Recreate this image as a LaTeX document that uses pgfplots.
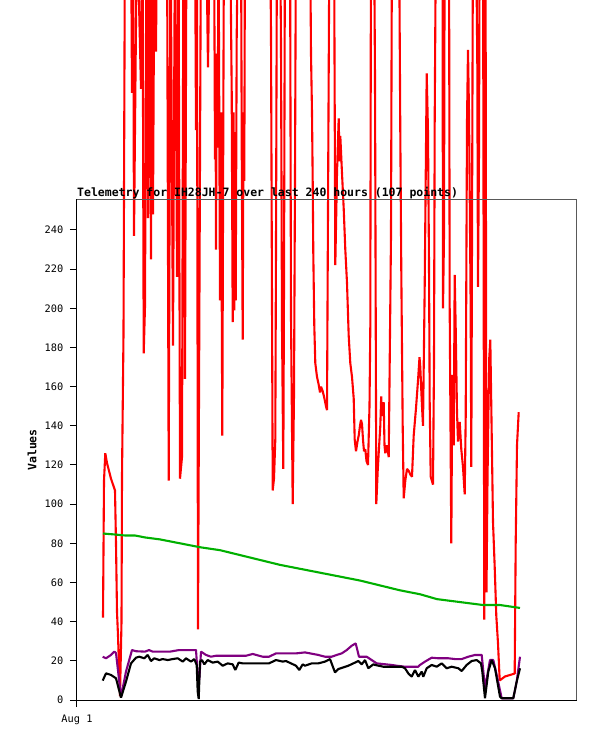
\documentclass[border=0pt]{standalone}
\usepackage{pgfplots}
\pgfplotsset{compat=1.18}
\usepackage{fontspec}
\newfontfamily\mono{DejaVu Sans Mono}
\newcommand\tickfont{\mono\fontsize{10.3bp}{12bp}\selectfont}
\newcommand\titlefont{\mono\bfseries\fontsize{11.5bp}{13bp}\selectfont}
\definecolor{tred}{RGB}{255,0,0}
\definecolor{tgreen}{RGB}{0,176,0}
\definecolor{tpurple}{RGB}{128,0,128}
\begin{document}
\begin{tikzpicture}
\begin{axis}[
  name=ax, at={(0,0)}, anchor=south west,
  scale only axis, width=500bp, height=500bp,
  xmin=77, xmax=577, ymin=0, ymax=255.3,
  clip=false,
  xtick={77}, xticklabels={Aug 1},
  ytick={0,20,...,240},
  tick pos=left, tick align=outside, major tick length=7bp,
  tick style={black, line width=1bp},
  axis line style={black, line width=1bp},
  /pgf/number format/assume math mode=true,
  ticklabel style={font=\tickfont},
  yticklabel style={anchor=east, inner sep=0pt, xshift=-6.5bp},
  xticklabel style={anchor=north, inner sep=0pt, yshift=-8bp},
  every axis plot/.append style={line width=2.1bp, line join=bevel, no marks, sharp plot},
]
% red series
\addplot[tred] coordinates {
(103,42) (104,112) (105.3,126) (107,121) (109,117) (111,113) (113,110) (115,107)
(116,80) (117,45) (118,33) (120,2) (121.5,40) (122,114) (123.5,187) (125,400)
(131,400) (132,310) (133,400) (134,237) (137,400) (141,312) (142.5,400) (143.7,177)
(145,201) (146.5,400) (148,246) (149.5,400) (151,225) (152,400) (153,248) (154.5,400)
(156,331) (157,400) (167,400) (168.7,112) (170.5,400) (173,181) (175,400) (177,216)
(178.5,400) (180,113) (182,124) (183.5,400) (185,164) (186.5,400) (195,400) (196,291)
(197,360) (198,36) (199.5,214) (201,400) (206,400) (208,323) (210,400) (214,400)
(215,276) (215.5,330) (216,230) (216.8,330) (217.7,282) (218.5,400) (220,204) (221,300)
(222.3,135) (223.3,294) (224,400) (230,400) (231.7,311) (232.7,193) (233.5,300) (234.3,199)
(235,290) (235.7,204) (236.7,338) (238,400) (241,400) (241.7,286) (242.7,184) (243.5,300)
(244.3,265) (245,400) (270,400) (271,341) (272.7,107) (274,113) (275.3,133) (276,231)
(277,400) (280,400) (281,335) (282,191) (283.3,118) (284,211) (285,400) (290,400)
(291,196) (292.7,100) (294,156) (295,267) (296,400) (310,400) (311,330) (312,300)
(312.7,265) (313.3,228) (314.3,191) (315.3,172) (317,165) (318.7,161) (320,157) (321,160)
(322.5,158) (324,155) (326,150) (327,148) (328.5,300) (329.5,400) (334,400) (335.3,222)
(337,269) (338.7,297) (339.5,275) (340.3,288) (342,269) (343.7,251) (345.3,230) (347,213)
(348.7,186) (350.3,172) (352,165) (353.7,154) (354.7,133) (356,127) (357.5,132) (358.7,135)
(360,140) (361,143) (362,141) (363,133) (364,127) (365.3,128) (366.5,122) (368,120)
(369.5,150) (370.3,190) (371,400) (374,400) (375,318) (376.3,100) (377.7,117) (378.7,126)
(380.3,140) (381.2,155) (382,145) (383.7,152) (384.5,130) (385.3,126) (387,130) (388.7,124)
(389.3,152) (391,237) (392,400) (399,400) (400.3,290) (401.3,219) (402.7,140) (403.7,103)
(405.3,112) (407,118) (408.7,117) (410.5,115) (412,114) (413.7,135) (416,149) (418,163)
(419.5,175) (420.3,170) (421.3,158) (422,150) (423,140) (424.7,211) (426.7,320) (428,290)
(429,223) (429.7,152) (430.7,114) (433,110) (434,172) (434.7,295) (436,400) (442.5,400)
(443,200) (444,237) (444.7,400) (449,400) (449.7,200) (450.7,126) (451.3,80) (452.3,166)
(453.7,130) (454.7,217) (455.7,190) (457,147) (458,132) (459.7,142) (461.3,128) (463,119)
(464.7,105) (465.7,144) (467,295) (468,332) (469,300) (469.7,260) (470.7,198) (471.3,119)
(473,400) (476,400) (477.3,325) (478,211) (479,280) (479.7,400) (483,400) (484.3,41)
(485.5,400) (486.5,55) (487.5,112) (488.5,150) (489.3,175) (490.3,184) (491.3,150) (493,91)
(494.7,68) (496.3,43) (498,29) (499.7,10) (505,12) (514.7,13.5) (515.7,80) (517,130)
(518.7,147)
};
% green series
\addplot[tgreen] coordinates {
(103,85) (115,84.5) (125,84) (135,84) (145,83) (160,82) (180,80) (200,78)
(220,76.5) (240,74) (260,71.5) (280,69) (300,67) (320,65) (340,63) (360,61)
(380,58.5) (400,56) (420,54) (437,51.5) (460,50) (483,48.5) (500,48.5) (520,47)
};
% purple series
\addplot[tpurple] coordinates {
(102.7,22.1) (106,21.3) (111,23) (114.3,24.7) (116,24) (121,1.7) (126,14.5) (132,25.5)
(136,24.9) (145,24.7) (149,25.5) (152.7,24.7) (170,24.7) (179,25.5) (196,25.5) (197.7,12.8)
(199.3,10.2) (201,24.7) (206,23) (211,22.1) (216,22.6) (246,22.6) (252.7,23.5) (262.7,22.1)
(269,22.1) (276,23.8) (296,23.8) (305,24.3) (318.3,23) (325,22.1) (331.7,22.1) (336.7,23)
(341.7,23.8) (346.7,25.5) (351.7,27.7) (355.7,28.9) (359,22.1) (366.7,22.1) (371.7,20.4) (376.7,18.7)
(391.7,17.9) (396.7,17.5) (405,17) (418.3,17) (420,17.9) (425,19.6) (431.7,21.6) (438.3,21.3)
(448.3,21.3) (455,20.9) (461.7,20.9) (468.3,22.1) (475,23) (481.7,23) (485,6) (490,20.4)
(493.3,20.4) (496.7,12.8) (501.7,0.9) (513.3,0.9) (516.7,9.4) (520,22.1)
};
% black series
\addplot[black] coordinates {
(102.7,9.9) (106,13.6) (111,12.8) (116,11.1) (121,1.2) (126,9.4) (131,18.7) (136,21.6)
(139.3,22.1) (144.3,21.3) (147.7,23) (151,19.9) (154.3,21.3) (159.3,20.4) (162.7,20.9) (167.7,20.4)
(172.7,20.9) (177.7,21.3) (182.7,19.6) (186,21.3) (191,19.6) (194.3,20.9) (196.7,17.9) (197.7,4.3)
(198.7,0.5) (200,19.6) (202,20.4) (204.3,18.2) (207.7,20.4) (212.7,19.1) (217.7,19.6) (222.7,17.5)
(227.7,18.7) (232.7,18.2) (235.3,15.3) (238.7,19.1) (242.7,18.7) (252.7,18.7) (262.7,18.7) (269,18.7)
(276,20.4) (282.7,19.6) (286,19.9) (291,18.7) (296,17.5) (299.3,15.3) (302.7,18.2) (305,17.5)
(311.7,18.7) (318.3,18.7) (325,19.6) (330,20.9) (335,14.1) (338.3,15.8) (348.3,17.5) (355,19.1)
(358.3,19.9) (361.7,18.2) (365,20.4) (368.3,16.2) (373.3,18.2) (375,17.9) (383.3,17) (391.7,17)
(401.7,17) (405,16.2) (408.3,13.6) (411.7,11.9) (415,15.3) (418.3,11.9) (421.7,14.5) (423.3,11.9)
(426.7,16.2) (431.7,17.9) (436.7,17) (441.7,18.7) (446.7,16.2) (451.7,17) (458.3,16.2) (461.7,14.8)
(466.7,17.9) (471.7,19.9) (476.7,20.4) (481,18.7) (482.3,14.5) (485,0.9) (488.3,14.5) (491.7,20.4)
(495,16.2) (500,1.7) (501.7,0.9) (513.3,0.9) (516.7,9.4) (520,16.2)
};
\draw[gray!70!black, line width=1bp] (rel axis cs:0,1) -- (rel axis cs:1,1) -- (rel axis cs:1,0);
\node[font=\titlefont, anchor=base west, inner sep=0pt] at ([yshift=3bp]rel axis cs:0,1)
  {Telemetry for IH28JH-7 over last 240 hours (107 points)};
\node[font=\mono\bfseries\fontsize{11.5bp}{13bp}\selectfont, rotate=90, anchor=center, inner sep=0pt]
  at ([xshift=-45bp]rel axis cs:0,0.5) {Values};
\end{axis}
\pgfresetboundingbox
\path[use as bounding box] ([xshift=-77bp,yshift=-41bp]ax.south west) rectangle ([xshift=20bp,yshift=200bp]ax.north east);
\end{tikzpicture}
\end{document}
